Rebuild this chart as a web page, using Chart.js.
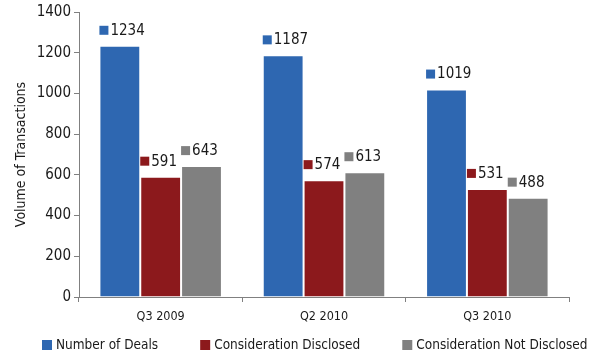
<!DOCTYPE html>
<html>
<head>
<meta charset="utf-8">
<script src="https://cdn.jsdelivr.net/npm/chart.js@4"></script>
<style>
  html, body { margin: 0; padding: 0; background: #fff; }
  #wrap { width: 597px; height: 354px; position: relative; }
</style>
</head>
<body>
<div id="wrap"><canvas id="chart"></canvas></div>
<script>
// chart data
const quarters = ['Q3 2009', 'Q2 2010', 'Q3 2010'];
const seriesNames = ['Number of Deals', 'Consideration Disclosed', 'Consideration Not Disclosed'];
const numberOfDeals = [1234, 1187, 1019];
const considerationDisclosed = [591, 574, 531];
const considerationNotDisclosed = [643, 613, 488];
const seriesColors = ['#2e67b1', '#8c191c', '#808080'];

const FONT = '"DejaVu Sans Condensed", "Liberation Sans Narrow", sans-serif';
const TEXT = '#1a1a1a';

// little square + number above each bar
const barLabels = {
  id: 'barLabels',
  afterDatasetsDraw(chart) {
    const ctx = chart.ctx;
    ctx.save();
    ctx.font = '15px ' + FONT;
    ctx.textBaseline = 'middle';
    ctx.textAlign = 'left';
    chart.data.datasets.forEach((ds, i) => {
      const meta = chart.getDatasetMeta(i);
      meta.data.forEach((bar, j) => {
        const left = bar.x - bar.width / 2;
        const y = bar.y - 16;
        ctx.fillStyle = ds.backgroundColor;
        ctx.fillRect(left, y - 4, 9, 9);
        ctx.fillStyle = TEXT;
        ctx.fillText(String(ds.data[j]), left + 11, y + 1);
      });
    });
    ctx.restore();
  }
};

// legend along the bottom, drawn by hand so the spacing matches
const bottomLegend = {
  id: 'bottomLegend',
  afterDraw(chart) {
    const ctx = chart.ctx;
    ctx.save();
    ctx.font = '13.5px ' + FONT;
    ctx.textBaseline = 'middle';
    ctx.textAlign = 'left';
    let x = 42;
    const y = 345;
    chart.data.datasets.forEach(ds => {
      ctx.fillStyle = ds.backgroundColor;
      ctx.fillRect(x, y - 5, 10, 10);
      ctx.fillStyle = TEXT;
      ctx.fillText(ds.label, x + 14, y);
      x += 14 + ctx.measureText(ds.label).width + 42;
    });
    ctx.restore();
  }
};

const datasets = [numberOfDeals, considerationDisclosed, considerationNotDisclosed].map((vals, i) => ({
  label: seriesNames[i],
  data: vals,
  backgroundColor: seriesColors[i],
  borderColor: '#ffffff',
  borderWidth: 1,
  barPercentage: 1,
  categoryPercentage: 0.75
}));

new Chart(document.getElementById('chart'), {
  type: 'bar',
  data: { labels: quarters, datasets },
  plugins: [barLabels, bottomLegend],
  options: {
    responsive: true,
    maintainAspectRatio: false,
    animation: false,
    layout: { padding: { top: 7, right: 28, left: 0, bottom: 29 } },
    plugins: {
      tooltip: { enabled: false },
      legend: { display: false }
    },
    scales: {
      x: {
        afterFit(scale) { scale.height = 28; },
        grid: { display: true, drawOnChartArea: false, offset: true, tickLength: 5, color: '#808080' },
        border: { color: '#808080' },
        ticks: { color: TEXT, font: { family: FONT, size: 12.5 }, padding: 7 }
      },
      y: {
        min: 0,
        max: 1400,
        afterFit(scale) { scale.width = 79; },
        ticks: {
          stepSize: 200, color: TEXT, font: { family: FONT, size: 15 }, padding: 3,
          callback: v => String(v)
        },
        grid: { display: true, drawOnChartArea: false, tickLength: 5, color: '#808080' },
        border: { color: '#808080' },
        title: { display: true, text: 'Volume of Transactions', color: TEXT, font: { family: FONT, size: 14 }, padding: { top: 13, bottom: 0 } }
      }
    }
  }
});
</script>
</body>
</html>
